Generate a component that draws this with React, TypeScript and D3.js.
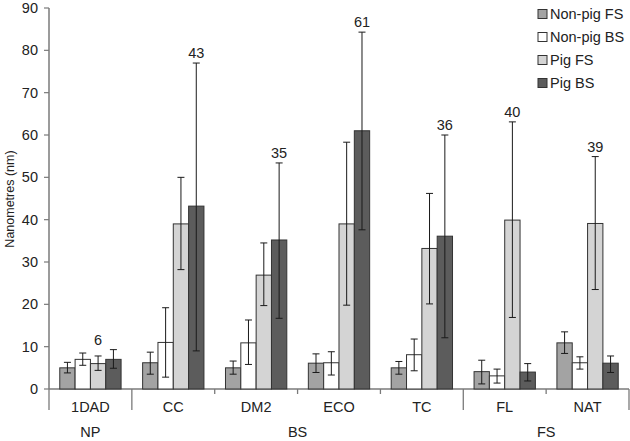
import React from "react";
import * as d3 from "d3";

const categories = ["1DAD", "CC", "DM2", "ECO", "TC", "FL", "NAT"];
const groups = [
  { name: "NP", from: 0, to: 0 },
  { name: "BS", from: 1, to: 4 },
  { name: "FS", from: 5, to: 6 },
];
const seriesNames = ["Non-pig FS", "Non-pig BS", "Pig FS", "Pig BS"];
const seriesColors = ["#a3a3a3", "#ffffff", "#d4d4d4", "#5c5c5c"];

const nonPigFS = [5, 6.2, 5, 6.1, 5, 4.1, 10.9];
const nonPigFSLow = [3.8, 3.5, 3.5, 3.9, 3.5, 1.2, 8.4];
const nonPigFSHigh = [6.3, 8.7, 6.6, 8.3, 6.5, 6.8, 13.5];

const nonPigBS = [7, 11, 10.9, 6.2, 8.1, 3.1, 6.2];
const nonPigBSLow = [5.6, 2.8, 5.8, 3.3, 4.3, 1.4, 4.7];
const nonPigBSHigh = [8.5, 19.2, 16.3, 8.8, 11.8, 4.7, 7.6];

const pigFS = [6, 39, 26.9, 39, 33.2, 39.9, 39.1];
const pigFSLow = [4.4, 28.2, 19.7, 19.8, 20.1, 16.9, 23.5];
const pigFSHigh = [7.8, 50, 34.5, 58.3, 46.2, 63.1, 54.9];

const pigBS = [7, 43.2, 35.2, 61, 36.1, 4, 6.1];
const pigBSLow = [4.9, 9, 16.7, 37.6, 12.1, 1.9, 3.9];
const pigBSHigh = [9.3, 77, 53.4, 84.3, 60, 6, 7.8];

const annotationText = ["6", "43", "35", "61", "36", "40", "39"];
const annotationSeries = [2, 3, 3, 3, 3, 2, 2];

const yTicks = [0, 10, 20, 30, 40, 50, 60, 70, 80, 90];

const values = [nonPigFS, nonPigBS, pigFS, pigBS];
const lows = [nonPigFSLow, nonPigBSLow, pigFSLow, pigBSLow];
const highs = [nonPigFSHigh, nonPigBSHigh, pigFSHigh, pigBSHigh];

const W = 630;
const H = 441;
const left = 49;
const right = 629;
const top = 8;
const bottom = 389;
const font = "'Liberation Sans', Arial, Helvetica, sans-serif";
const axisColor = "#7a7a7a";
const textColor = "#222";
const fs = 14.5;

export default function App() {
  const y = d3.scaleLinear().domain([0, 90]).range([bottom, top]);
  const x0 = d3.scaleBand<string>().domain(categories).range([left, right]);
  const bw = x0.bandwidth();
  const x1 = d3
    .scaleBand<string>()
    .domain(seriesNames)
    .range([bw * 0.13, bw * 0.87]);
  const w = x1.bandwidth();

  const groupBoundaries = new Set<number>();
  groups.forEach((g) => {
    groupBoundaries.add(g.from);
    groupBoundaries.add(g.to + 1);
  });

  return (
    <svg
      width={W}
      height={H}
      style={{ position: "absolute", left: 0, top: 0, background: "#fff" }}
      fontFamily={font}
    >
      <rect x={0} y={0} width={W} height={H} fill="#fff" />
      {/* y axis */}
      <line x1={left} x2={left} y1={top} y2={bottom} stroke={axisColor} strokeWidth={1.5} />
      {yTicks.map((t) => (
        <g key={t}>
          <line x1={left - 5} x2={left} y1={y(t)} y2={y(t)} stroke={axisColor} strokeWidth={1.2} />
          <text
            x={left - 11}
            y={y(t)}
            dy="0.35em"
            textAnchor="end"
            fontSize={fs}
            fill={textColor}
          >
            {t}
          </text>
        </g>
      ))}
      <text
        transform={`translate(14,199) rotate(-90)`}
        textAnchor="middle"
        fontSize={12.5}
        fill={textColor}
      >
        Nanometres (nm)
      </text>

      {/* x axis */}
      <line x1={left} x2={right} y1={bottom} y2={bottom} stroke={axisColor} strokeWidth={1.5} />
      {d3.range(categories.length + 1).map((i) => {
        const xp = i < categories.length ? x0(categories[i])! : right;
        const long = groupBoundaries.has(i);
        return (
          <line
            key={i}
            x1={xp}
            x2={xp}
            y1={bottom}
            y2={long ? 410 : 394}
            stroke={axisColor}
            strokeWidth={1.3}
          />
        );
      })}
      {categories.map((c) => (
        <text
          key={c}
          x={x0(c)! + bw / 2}
          y={412}
          textAnchor="middle"
          fontSize={fs}
          fill={textColor}
        >
          {c}
        </text>
      ))}
      {groups.map((g) => {
        const a = x0(categories[g.from])!;
        const b = x0(categories[g.to])! + bw;
        return (
          <text
            key={g.name}
            x={(a + b) / 2}
            y={437}
            textAnchor="middle"
            fontSize={fs}
            fill={textColor}
          >
            {g.name}
          </text>
        );
      })}

      {/* bars */}
      {categories.map((c, ci) => (
        <g key={c} transform={`translate(${x0(c)},0)`}>
          {seriesNames.map((s, si) => {
            const v = values[si][ci];
            const bx = x1(s)!;
            return (
              <rect
                key={s}
                x={bx}
                y={y(v)}
                width={w}
                height={y(0) - y(v)}
                fill={seriesColors[si]}
                stroke="#333"
                strokeWidth={1}
              />
            );
          })}
          {seriesNames.map((s, si) => {
            const cx = x1(s)! + w / 2;
            const lo = y(lows[si][ci]);
            const hi = y(highs[si][ci]);
            return (
              <g key={s + "e"} stroke="#1a1a1a" strokeWidth={1}>
                <line x1={cx} x2={cx} y1={lo} y2={hi} />
                <line x1={cx - 3.5} x2={cx + 3.5} y1={lo} y2={lo} />
                <line x1={cx - 3.5} x2={cx + 3.5} y1={hi} y2={hi} />
              </g>
            );
          })}
          <text
            x={x1(seriesNames[annotationSeries[ci]])! + w / 2}
            y={y(d3.max(highs, (h) => h[ci])!) - 5}
            textAnchor="middle"
            fontSize={fs}
            fill={textColor}
          >
            {annotationText[ci]}
          </text>
        </g>
      ))}

      {/* legend */}
      {seriesNames.map((s, i) => (
        <g key={s} transform={`translate(538,${14 + i * 23})`}>
          <rect x={0} y={-4.5} width={9} height={9} fill={seriesColors[i]} stroke="#333" strokeWidth={1} />
          <text x={12} y={0} dy="0.35em" fontSize={fs} fill={textColor}>
            {s}
          </text>
        </g>
      ))}
    </svg>
  );
}
